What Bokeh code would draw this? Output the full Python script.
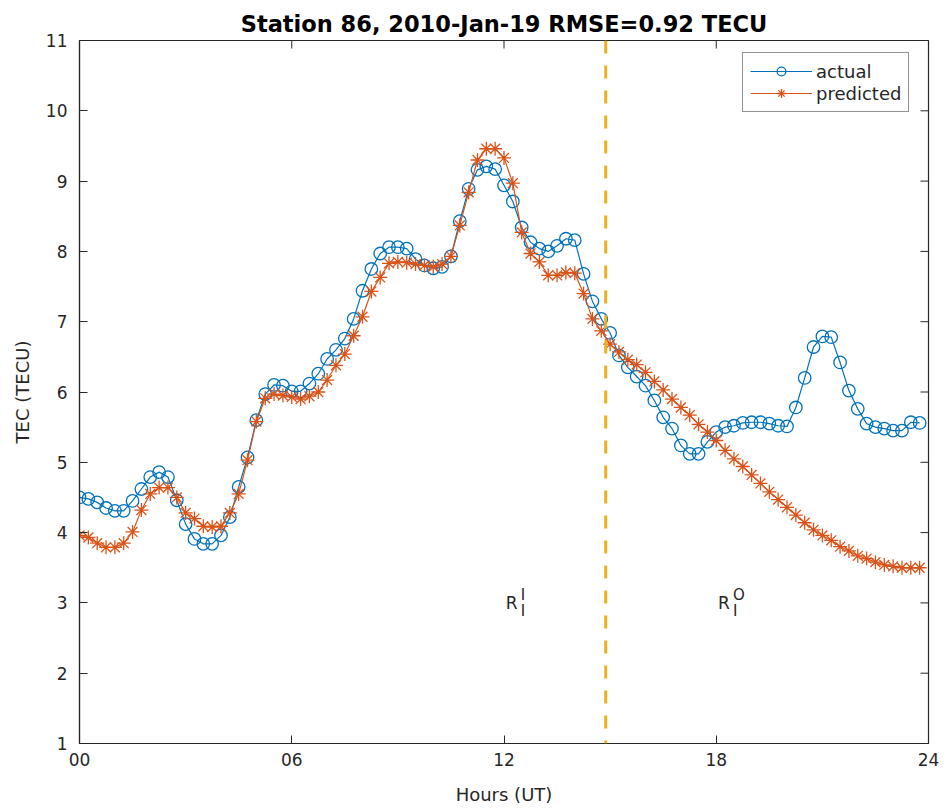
import numpy as np
from bokeh.plotting import figure
from bokeh.models import Range1d, Span, Legend, LegendItem, FixedTicker
from bokeh.core.properties import value
from bokeh.embed import file_html
from bokeh.resources import INLINE

# ---- data ----
hours = np.arange(0, 24, 0.25)  # 15-minute sampling, 00:00 .. 23:45 UT

actual = [
    4.50, 4.48, 4.43, 4.35, 4.31, 4.31, 4.45, 4.62, 4.79, 4.86, 4.79, 4.46,
    4.12, 3.91, 3.84, 3.84, 3.96, 4.22, 4.65, 5.07, 5.60, 5.97, 6.10, 6.09,
    6.01, 6.01, 6.12, 6.26, 6.47, 6.60, 6.76, 7.04, 7.44, 7.75, 7.97, 8.06,
    8.06, 8.04, 7.89, 7.80, 7.76, 7.78, 7.93, 8.43, 8.89, 9.16, 9.21, 9.17,
    8.94, 8.71, 8.34, 8.13, 8.04, 8.00, 8.08, 8.18, 8.16, 7.68, 7.29, 7.04,
    6.84, 6.52, 6.35, 6.22, 6.09, 5.88, 5.64, 5.48, 5.24, 5.12, 5.12, 5.29,
    5.43, 5.50, 5.52, 5.56, 5.57, 5.57, 5.55, 5.52, 5.51, 5.78, 6.20, 6.64,
    6.79, 6.78, 6.42, 6.02, 5.76, 5.55, 5.50, 5.48, 5.45, 5.45, 5.57, 5.56,
]

predicted = [
    3.96, 3.93, 3.85, 3.79, 3.79, 3.85, 4.01, 4.32, 4.55, 4.64, 4.64, 4.50,
    4.28, 4.20, 4.09, 4.08, 4.09, 4.28, 4.55, 5.03, 5.58, 5.91, 5.97, 5.95,
    5.93, 5.90, 5.94, 6.00, 6.17, 6.38, 6.54, 6.80, 7.07, 7.43, 7.63, 7.83,
    7.85, 7.84, 7.82, 7.80, 7.78, 7.82, 7.93, 8.37, 8.84, 9.30, 9.46, 9.46,
    9.33, 8.97, 8.27, 7.97, 7.85, 7.66, 7.66, 7.70, 7.69, 7.40, 7.04, 6.87,
    6.68, 6.57, 6.46, 6.39, 6.28, 6.15, 6.03, 5.90, 5.78, 5.67, 5.54, 5.43,
    5.31, 5.17, 5.05, 4.94, 4.82, 4.70, 4.58, 4.47, 4.36, 4.25, 4.14, 4.04,
    3.96, 3.89, 3.80, 3.74, 3.67, 3.63, 3.58, 3.54, 3.52, 3.50, 3.50, 3.50,
]

x_ticks = [0, 6, 12, 18, 24]
x_tick_labels = ["00", "06", "12", "18", "24"]
y_ticks = [1, 2, 3, 4, 5, 6, 7, 8, 9, 10, 11]
x_min, x_max = 0, 24
y_min, y_max = 1, 11
split_hour = 14.875
title_text = "Station 86, 2010-Jan-19 RMSE=0.92 TECU"
region_x = [12.05, 18.05]
region_y = [3.0, 3.0]
region_main = ["R", "R"]
region_sup = ["I", "O"]
region_sub = ["I", "I"]

# ---- styling ----
BLUE = "#0072BD"
ORANGE = "#D95319"
YELLOW = "#EDB120"
AX = "#262626"
FONT = "DejaVu Sans"

p = figure(
    frame_width=849, frame_height=703,
    x_range=Range1d(x_min, x_max), y_range=Range1d(y_min, y_max),
    output_backend="svg", toolbar_location=None,
    min_border_left=79, min_border_right=18,
    min_border_top=40, min_border_bottom=68,
    background_fill_color="white", border_fill_color="white",
)
p.xgrid.visible = False
p.ygrid.visible = False
p.outline_line_color = AX
p.outline_line_width = 1.2

p.title.text = title_text
p.title.align = "center"
p.title.text_font = FONT
p.title.text_font_size = "22.5px"
p.title.text_font_style = "bold"
p.title.text_color = "black"
p.title.standoff = 8

def style_axis(ax):
    ax.axis_line_color = AX
    ax.axis_line_width = 1.2
    ax.major_tick_line_color = AX
    ax.major_tick_line_width = 1
    ax.major_tick_in = 8
    ax.major_tick_out = 0
    ax.minor_tick_line_color = None
    ax.major_label_text_font = FONT
    ax.major_label_text_color = AX
    ax.major_label_text_font_size = "17px"
    ax.axis_label_text_font = FONT
    ax.axis_label_text_font_size = "18px"
    ax.axis_label_text_font_style = "normal"
    ax.axis_label_text_color = AX

xa = p.xaxis[0]
xa.ticker = FixedTicker(ticks=x_ticks)
xa.major_label_overrides = {t: s for t, s in zip(x_ticks, x_tick_labels)}
style_axis(xa)
xa.major_label_standoff = 9
xa.axis_label = "Hours (UT)"
xa.axis_label_standoff = 15

ya = p.yaxis[0]
ya.ticker = FixedTicker(ticks=y_ticks)
style_axis(ya)
ya.major_label_standoff = 12
ya.axis_label = "TEC (TECU)"
ya.axis_label_standoff = 10

# inward box ticks on top and right edges (screen-length rays from the frame edges)
p.ray(x=x_ticks, y=[y_max] * len(x_ticks), length=8, length_units="screen",
      angle=-np.pi / 2, line_color=AX, line_width=1)
p.ray(x=[x_max] * len(y_ticks), y=y_ticks, length=8, length_units="screen",
      angle=np.pi, line_color=AX, line_width=1)

# split line
p.add_layout(Span(location=split_hour, dimension="height", line_color=YELLOW,
                  line_width=3, line_dash="13 12"))

# series
la = p.line(hours, actual, line_color=BLUE, line_width=1.2)
sa = p.scatter(hours, actual, marker="circle", size=12.5, fill_color=None,
               line_color=BLUE, line_width=1.3)
lp = p.line(hours, predicted, line_color=ORANGE, line_width=1.2)
sp = p.scatter(hours, predicted, marker="asterisk", size=14,
               line_color=ORANGE, line_width=1.3)

# region annotations
p.text(x=region_x, y=region_y, text=region_main, text_font=value(FONT),
       text_font_size="17px", text_baseline="middle", text_align="left",
       text_color=AX)
p.text(x=region_x, y=region_y, text=region_sup, text_font=value(FONT),
       text_font_size="15px", text_baseline="middle", text_align="left",
       text_color=AX, x_offset=15, y_offset=-8)
p.text(x=region_x, y=region_y, text=region_sub, text_font=value(FONT),
       text_font_size="15px", text_baseline="middle", text_align="left",
       text_color=AX, x_offset=15, y_offset=8)

legend = Legend(
    items=[LegendItem(label="actual", renderers=[la, sa]),
           LegendItem(label="predicted", renderers=[lp, sp])],
    location=(663, 631),
    label_text_font=FONT, label_text_font_size="18px", label_text_color=AX,
    glyph_width=62, glyph_height=22, label_height=22, label_standoff=4,
    spacing=0, padding=7, margin=0,
    border_line_color=AX, border_line_width=1.2,
    background_fill_color="white", background_fill_alpha=1.0,
)
p.add_layout(legend)

open("out.html", "w").write(file_html(p, INLINE))
